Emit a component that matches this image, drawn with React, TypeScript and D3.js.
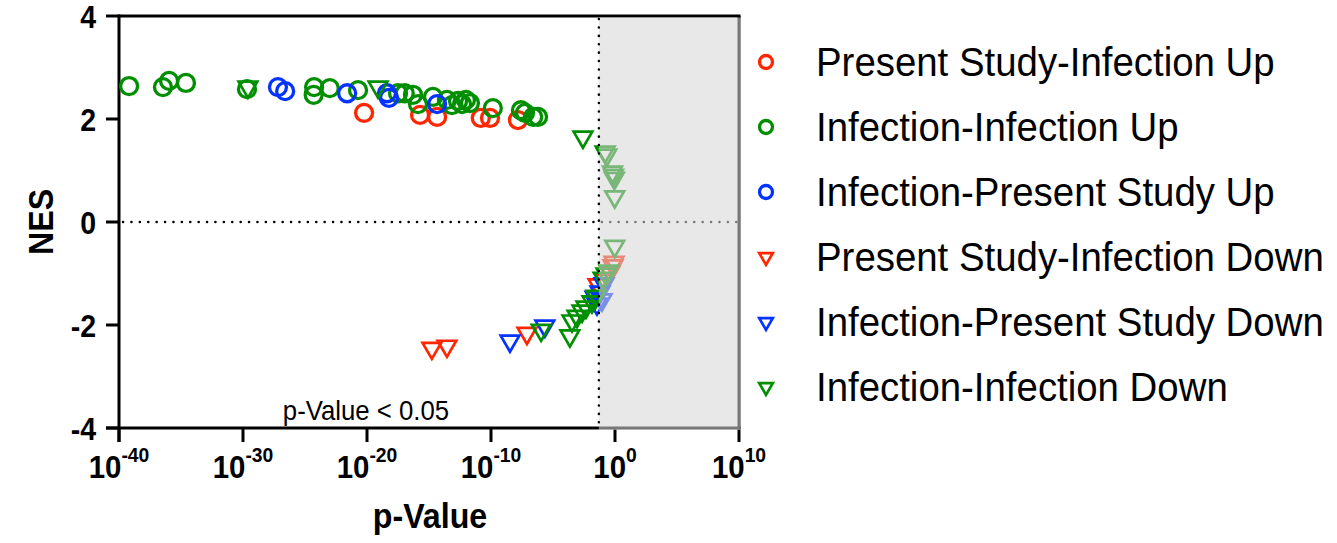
import React from "react";
import * as d3 from "d3";

// ---- data (p-value, NES) ----
const psiUpP = [5.8e-21, 1.9e-16, 4.5e-15, 1.5e-11, 8.3e-11, 1.5e-8];
const psiUpNES = [2.12, 2.08, 2.04, 2.02, 2.02, 1.98];

const iiUpP = [6.5e-40, 3.5e-37, 1.1e-36, 2.5e-35, 2.1e-30, 5.4e-25, 5.0e-25, 1.0e-23, 1.9e-21, 3.2e-18, 1.1e-17, 5.1e-17, 1.3e-16, 2.1e-15, 2.8e-14, 7.1e-14, 2.2e-13, 4.6e-13, 9.5e-13, 2.0e-12, 1.4e-10, 2.6e-8, 5.5e-8, 2.5e-7, 6.2e-7];
const iiUpNES = [2.64, 2.62, 2.74, 2.70, 2.58, 2.62, 2.47, 2.60, 2.56, 2.50, 2.50, 2.47, 2.29, 2.43, 2.37, 2.27, 2.35, 2.29, 2.37, 2.31, 2.21, 2.17, 2.12, 2.04, 2.04];

const ipsUpP = [6.6e-28, 2.5e-27, 2.5e-22, 4.1e-19, 5.9e-19, 4.5e-15];
const ipsUpNES = [2.62, 2.54, 2.50, 2.50, 2.41, 2.29];

const psiDownP = [1.7e-15, 2.8e-14, 7.9e-8, 0.043, 0.155, 0.40, 0.69, 0.83];
const psiDownNES = [-2.45, -2.41, -2.16, -1.22, -1.13, -0.97, -0.85, -0.78];

const ipsDownP = [3.4e-9, 2.2e-6, 0.025, 0.035, 0.062, 0.089, 0.13];
const ipsDownNES = [-2.31, -2.02, -1.46, -1.59, -1.36, -1.51, -1.2];

const iiDownP = [2.5e-30, 7.8e-20, 2.6e-3, 0.16, 0.22, 0.63, 0.76, 0.89, 0.95, 0.95, 0.33, 0.19, 0.11, 0.03, 0.014, 4.6e-3, 2.2e-3, 8.7e-4, 3.4e-4, 2.3e-4, 1.1e-6];
const iiDownNES = [2.62, 2.62, 1.65, 1.36, 1.30, 0.97, 0.91, 0.85, 0.49, -0.47, -0.95, -1.01, -1.09, -1.44, -1.55, -1.65, -1.73, -1.83, -1.92, -2.21, -2.10];

const xTickExps = [-40, -30, -20, -10, 0, 10];
const yTicks = [-4, -2, 0, 2, 4];
const threshold = 0.05;

const RED = "#ff2600";
const GREEN = "#008f00";
const BLUE = "#0433ff";

type Series = { name: string; p: number[]; nes: number[]; color: string; shape: "circle" | "tri" };
const series: Series[] = [
  { name: "Present Study-Infection Up", p: psiUpP, nes: psiUpNES, color: RED, shape: "circle" },
  { name: "Infection-Infection Up", p: iiUpP, nes: iiUpNES, color: GREEN, shape: "circle" },
  { name: "Infection-Present Study Up", p: ipsUpP, nes: ipsUpNES, color: BLUE, shape: "circle" },
  { name: "Present Study-Infection Down", p: psiDownP, nes: psiDownNES, color: RED, shape: "tri" },
  { name: "Infection-Present Study Down", p: ipsDownP, nes: ipsDownNES, color: BLUE, shape: "tri" },
  { name: "Infection-Infection Down", p: iiDownP, nes: iiDownNES, color: GREEN, shape: "tri" },
];

const X0 = 119, X1 = 739, Y0 = 16, Y1 = 428;
const FONT = "'Liberation Sans', Arial, Helvetica, sans-serif";
const SX = 0.92;

export default function App() {
  const x = d3.scaleLog().domain([1e-40, 1e10]).range([X0, X1]);
  const y = d3.scaleLinear().domain([-4, 4]).range([Y1, Y0]);
  const triBig = d3.symbol().type(d3.symbolTriangle).size(150)() as string;
  const triSmall = d3.symbol().type(d3.symbolTriangle).size(80)() as string;
  const xt = x(threshold);

  const marker = (s: Series, cx: number, cy: number, key: string, small = false) =>
    s.shape === "circle" ? (
      <circle key={key} cx={cx} cy={cy} r={small ? 6.5 : 8.5} fill="none" stroke={s.color} strokeWidth={3.3} />
    ) : (
      <path key={key} d={small ? triSmall : triBig} transform={`translate(${cx},${cy}) rotate(180)`} fill="none" stroke={s.color} strokeWidth={2.7} />
    );

  return (
    <svg width={1337} height={543} style={{ position: "absolute", left: 0, top: 0, background: "#fff" }} fontFamily={FONT}>
      {/* zero dotted line */}
      <line x1={X0 + 4} x2={X1} y1={y(0)} y2={y(0)} stroke="#000" strokeWidth={2.5} strokeDasharray="0.1 8.3" strokeLinecap="round" />
      {/* frame */}
      <line x1={X0} x2={X1 + 1.5} y1={Y0} y2={Y0} stroke="#000" strokeWidth={3} />
      <line x1={X1} x2={X1} y1={Y0} y2={Y1} stroke="#000" strokeWidth={3} />
      <line x1={X0} x2={X0} y1={Y0 - 1.5} y2={Y1 + 14} stroke="#000" strokeWidth={3} />
      <line x1={X0 - 13} x2={X1 + 1.5} y1={Y1} y2={Y1} stroke="#000" strokeWidth={3} />
      {yTicks.map((t) => (
        <g key={"yt" + t}>
          <line x1={X0 - 13} x2={X0} y1={y(t)} y2={y(t)} stroke="#000" strokeWidth={3} />
          <text transform={`translate(96,${y(t) + 11.5}) scale(${SX},1)`} textAnchor="end" fontSize={31} fontWeight="bold">{t}</text>
        </g>
      ))}
      {xTickExps.map((e) => (
        <g key={"xt" + e}>
          <line x1={x(Math.pow(10, e))} x2={x(Math.pow(10, e))} y1={Y1} y2={Y1 + 14} stroke="#000" strokeWidth={3} />
          <text transform={`translate(${x(Math.pow(10, e))},478) scale(${SX},1)`} textAnchor="middle" fontWeight="bold">
            <tspan fontSize={32}>10</tspan>
            <tspan fontSize={21} dy={-16}>{e}</tspan>
          </text>
        </g>
      ))}
      {/* points */}
      {series.map((s, si) =>
        s.p.map((p, i) => marker(s, x(p), y(s.nes[i]), `m${si}-${i}`))
      )}
      {/* non-significant region overlay */}
      <rect x={xt} y={Y0 + 1.5} width={X1 + 1.5 - xt} height={Y1 + 2 - Y0 - 1.5} fill="rgb(214,214,214)" fillOpacity={0.56} />
      <line x1={xt} x2={xt} y1={Y0 + 3} y2={Y1} stroke="#000" strokeWidth={2.5} strokeDasharray="0.1 8.3" strokeLinecap="round" />
      <text transform={`translate(366,420) scale(${SX},1)`} textAnchor="middle" fontSize={28}>p-Value &lt; 0.05</text>
      {/* axis titles */}
      <text transform={`translate(430,528) scale(${SX},1)`} textAnchor="middle" fontSize={35} fontWeight="bold">p-Value</text>
      <text transform={`translate(53,${y(0)}) rotate(-90) scale(${SX},1)`} textAnchor="middle" fontSize={35} fontWeight="bold">NES</text>
      {/* legend */}
      {series.map((s, i) => {
        const cy = 62 + i * 65;
        return (
          <g key={"lg" + i}>
            {marker(s, 766, cy, "lm" + i, true)}
            <text transform={`translate(816,${cy + 14}) scale(0.96,1)`} fontSize={40}>{s.name}</text>
          </g>
        );
      })}
    </svg>
  );
}
